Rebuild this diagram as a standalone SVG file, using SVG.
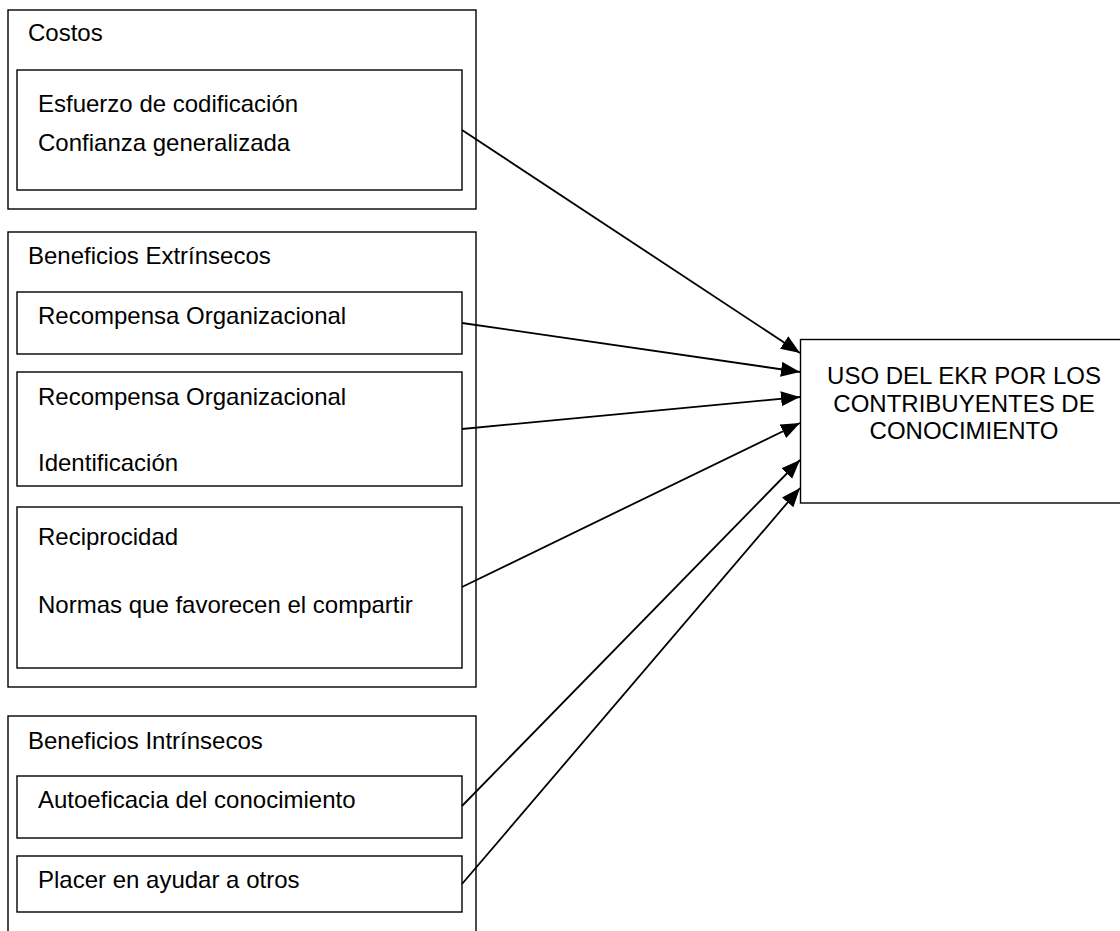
<svg xmlns="http://www.w3.org/2000/svg" width="1120" height="931" viewBox="0 0 1120 931">
<style>
.box{fill:#fff;stroke:#000;stroke-width:1.4}
.t{font-family:"Liberation Sans",Arial,sans-serif;font-size:24px;fill:#000}
.c{text-anchor:middle}
.con{stroke:#000;stroke-width:1.8;fill:none;marker-end:url(#ah)}
</style>
<defs>
<marker id="ah" markerUnits="userSpaceOnUse" markerWidth="20" markerHeight="16" refX="19" refY="7.5" orient="auto">
<path d="M0,0 L19,7.5 L0,15 z" fill="#000"/>
</marker>
</defs>
<rect width="1120" height="931" fill="#fff"/>
<g id="costos">
<rect class="box" x="8" y="10" width="468" height="199"/>
<text class="t" x="28" y="41">Costos</text>
<g id="costos-items">
<rect class="box" x="17" y="70" width="445" height="120"/>
<text class="t" x="38" y="112">Esfuerzo de codificación</text>
<text class="t" x="38" y="151">Confianza generalizada</text>
</g>
</g>
<g id="beneficios-extrinsecos">
<rect class="box" x="8" y="232" width="468" height="455"/>
<text class="t" x="28" y="264">Beneficios Extrínsecos</text>
<g id="recompensa">
<rect class="box" x="17" y="292" width="445" height="62"/>
<text class="t" x="38" y="324">Recompensa Organizacional</text>
</g>
<g id="recompensa-identificacion">
<rect class="box" x="17" y="372" width="445" height="114"/>
<text class="t" x="38" y="405">Recompensa Organizacional</text>
<text class="t" x="38" y="471">Identificación</text>
</g>
<g id="reciprocidad">
<rect class="box" x="17" y="507" width="445" height="161"/>
<text class="t" x="38" y="545">Reciprocidad</text>
<text class="t" x="38" y="613">Normas que favorecen el compartir</text>
</g>
</g>
<g id="beneficios-intrinsecos">
<rect class="box" x="8" y="716" width="468" height="240"/>
<text class="t" x="28" y="749">Beneficios Intrínsecos</text>
<g id="autoeficacia">
<rect class="box" x="17" y="776" width="445" height="62"/>
<text class="t" x="38" y="808">Autoeficacia del conocimiento</text>
</g>
<g id="placer">
<rect class="box" x="17" y="856" width="445" height="56"/>
<text class="t" x="38" y="888">Placer en ayudar a otros</text>
</g>
</g>
<g id="uso-ekr">
<rect class="box" x="800.5" y="339.5" width="340" height="163.5"/>
<text class="t c" x="964" y="384">USO DEL EKR POR LOS</text>
<text class="t c" x="964" y="412">CONTRIBUYENTES DE</text>
<text class="t c" x="964" y="439">CONOCIMIENTO</text>
</g>
<g id="connectors">
<line class="con" x1="462" y1="130" x2="800" y2="353"/>
<line class="con" x1="462" y1="323" x2="800" y2="372"/>
<line class="con" x1="462" y1="429" x2="800" y2="397"/>
<line class="con" x1="462" y1="587" x2="800" y2="423"/>
<line class="con" x1="462" y1="806" x2="800" y2="460"/>
<line class="con" x1="462" y1="884" x2="800" y2="488"/>
</g>
</svg>
